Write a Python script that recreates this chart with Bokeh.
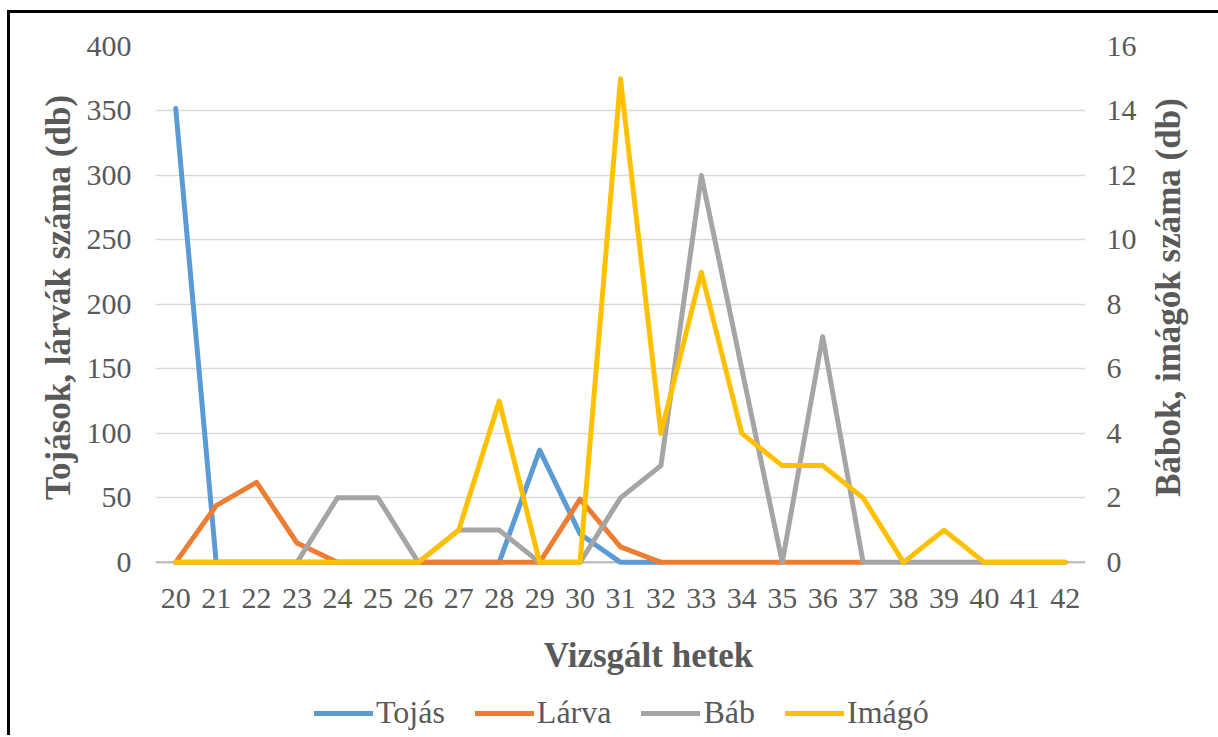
import math
from bokeh.plotting import figure
from bokeh.layouts import column, row
from bokeh.models import Range1d, LinearAxis, FixedTicker, Span, Legend, LegendItem, Label
from bokeh.embed import file_html
from bokeh.resources import INLINE

# ---- data ----
nan = float("nan")
weeks = list(range(20, 43))
tojas = [352, 0, 0, 0, 0, 0, 0, 0, 0, 87, 22, 0, 0, nan, nan, nan, nan, nan, nan, nan, nan, nan, nan]
larva = [0, 44, 62, 15, 0, 0, 0, 0, 0, 0, 49, 12, 0, 0, 0, 0, 0, 0, nan, nan, nan, nan, nan]
bab = [0, 0, 0, 0, 2, 2, 0, 1, 1, 0, 0, 2, 3, 12, 6, 0, 7, 0, 0, 0, 0, 0, 0]
imago = [0, 0, 0, 0, 0, 0, 0, 1, 5, 0, 0, 15, 4, 9, 4, 3, 3, 2, 0, 1, 0, 0, 0]
left_ticks = [0, 50, 100, 150, 200, 250, 300, 350, 400]
right_ticks = [0, 2, 4, 6, 8, 10, 12, 14, 16]
series_names = ["Tojás", "Lárva", "Báb", "Imágó"]
colors = ["#5B9BD5", "#ED7D31", "#A5A5A5", "#FFC000"]
x_title = "Vizsgált hetek"
left_title = "Tojások, lárvák száma (db)"
right_title = "Bábok, imágók száma (db)"

FONT = "Liberation Serif"
TXT = "#595959"
TOP_H = 612


def blank(w, h):
    f = figure(width=w, height=h, x_range=Range1d(0, 1), y_range=Range1d(1000, 1001),
               x_axis_type=None, y_axis_type=None, output_backend="svg",
               toolbar_location=None, min_border=0)
    f.grid.visible = False
    f.outline_line_color = None
    f.background_fill_color = "white"
    f.border_fill_color = "white"
    return f


def title_label(x, y, text, angle=0.0):
    return Label(x=x, y=y, x_units="screen", y_units="screen", text=text, angle=angle,
                 text_align="center", text_baseline="middle", text_font=FONT,
                 text_font_style="bold", text_font_size="35px", text_color=TXT)


# ---- main chart ----
p = figure(width=1070, height=TOP_H,
           x_range=Range1d(19.5, 42.5), y_range=Range1d(-4, 400),
           output_backend="svg", toolbar_location=None,
           min_border_left=75, min_border_right=65,
           min_border_top=33, min_border_bottom=58)
p.extra_y_ranges = {"r": Range1d(-4 / 25, 16)}
p.outline_line_color = None
p.background_fill_color = "white"
p.border_fill_color = "white"

xa = p.xaxis[0]
xa.ticker = FixedTicker(ticks=weeks)
ya = p.yaxis[0]
ya.ticker = FixedTicker(ticks=left_ticks)
ra = LinearAxis(y_range_name="r", ticker=FixedTicker(ticks=right_ticks))
p.add_layout(ra, "right")

for ax in (xa, ya, ra):
    ax.axis_line_color = None
    ax.major_tick_line_color = None
    ax.minor_tick_line_color = None
    ax.major_label_text_font = FONT
    ax.major_label_text_font_size = "30px"
    ax.major_label_text_color = TXT
xa.major_label_standoff = 15
ya.major_label_standoff = 18
ra.major_label_standoff = 15

p.xgrid.visible = False
p.ygrid.ticker = FixedTicker(ticks=left_ticks[1:])
p.ygrid.grid_line_color = "#D9D9D9"
p.ygrid.grid_line_width = 1.3

p.add_layout(Span(location=0, dimension="width", line_color="#BFBFBF",
                  line_width=2.5, level="underlay"))

for vals, c, rng in zip([tojas, larva, bab, imago], colors, ["default", "default", "r", "r"]):
    p.line(weeks, vals, line_color=c, line_width=5, line_join="round",
           line_cap="round", y_range_name=rng)

# ---- side titles (their frames are aligned with the main frame) ----
lt = blank(70, TOP_H)
lt.add_layout(title_label(48, 270, left_title, math.pi / 2))
rt = blank(68, TOP_H)
rt.add_layout(title_label(18, 270, right_title, math.pi / 2))

# ---- bottom: x title + legend ----
b = blank(1208, 110)
b.add_layout(title_label(638, 80, x_title))
leg_renderers = []
for vals, c in zip([tojas, larva, bab, imago], colors):
    leg_renderers.append(b.line(weeks, vals, line_color=c, line_width=5, line_cap="round"))
legend = Legend(items=[LegendItem(label=n, renderers=[r]) for n, r in zip(series_names, leg_renderers)],
                orientation="horizontal", location=(304, 4),
                glyph_width=59, glyph_height=20, label_standoff=3, spacing=30,
                padding=0, margin=0, border_line_color=None, background_fill_alpha=0,
                label_text_font=FONT, label_text_font_size="32px", label_text_color=TXT)
b.add_layout(legend)

layout = column(row(lt, p, rt), b)
layout.styles = {"margin-left": "7px", "margin-top": "10px",
                 "border-left": "3px solid black", "border-top": "3px solid black"}

open("out.html", "w").write(file_html(layout, INLINE))
